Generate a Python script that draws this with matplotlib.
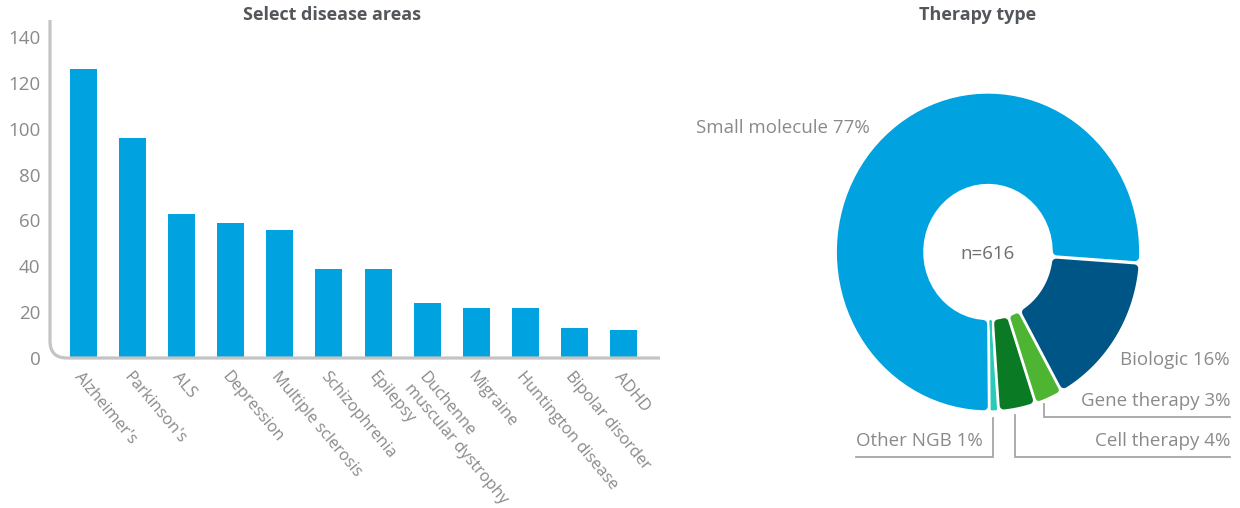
import numpy as np
import matplotlib
matplotlib.use('Agg')
import matplotlib.pyplot as plt
from matplotlib.path import Path
from matplotlib.patches import PathPatch, Polygon

plt.rcParams['font.family'] = ['Open Sans', 'DejaVu Sans']

# left panel data
diseases = ["Alzheimer's", "Parkinson's", 'ALS', 'Depression', 'Multiple sclerosis',
            'Schizophrenia', 'Epilepsy', 'Duchenne\nmuscular dystrophy', 'Migraine',
            'Huntington disease', 'Bipolar disorder', 'ADHD']
counts = [126, 96, 63, 59, 56, 39, 39, 24, 22, 22, 13, 12]
y_ticks = [0, 20, 40, 60, 80, 100, 120, 140]

# right panel data (counter-clockwise order)
therapies = ['Small molecule', 'Other NGB', 'Cell therapy', 'Gene therapy', 'Biologic']
shares = [77, 1, 4, 3, 16]
therapy_colors = ['#00A3E0', '#2BC9B8', '#0B7A25', '#4DB531', '#005587']
n_total = 616

BLUE = '#00A3E0'
GREY_TXT = '#8A8A8A'
TITLE = '#53565A'
AXIS = '#C4C4C4'
LEADER = '#A6A6A6'

fig = plt.figure(figsize=(12.4, 5.08), dpi=100)

# ---- bar chart ----
ax = fig.add_axes([50 / 1240, 150 / 508, 610 / 1240, 338 / 508])
x = np.arange(len(diseases))
ax.bar(x, counts, width=0.55, color=BLUE, zorder=2)
ax.set_xlim(-0.68, 11.74)
ax.set_ylim(0, 147.4)
for s in ax.spines.values():
    s.set_visible(False)
ax.set_yticks(y_ticks)
ax.tick_params(axis='y', length=0, pad=7, labelsize=13.5, labelcolor=GREY_TXT)
ax.set_xticks(x)
ax.set_xticklabels(diseases, rotation=-50, ha='left', va='top',
                   rotation_mode='anchor', fontsize=11.8, color=GREY_TXT)
ax.tick_params(axis='x', length=0, pad=8)

# axis line with a rounded corner
rx, ry = 17 / 610, 17 / 338
axis_path = Path([(0, 1), (0, ry), (0, 0), (rx, 0), (1, 0)],
                 [Path.MOVETO, Path.LINETO, Path.CURVE3, Path.CURVE3, Path.LINETO])
ax.add_patch(PathPatch(axis_path, transform=ax.transAxes, fill=False,
                       edgecolor=AXIS, lw=2.3, clip_on=False, zorder=3))

fig.text(332 / 1240, 1 - 15 / 508, 'Select disease areas', ha='center', va='center',
         fontsize=13, fontweight='bold', color=TITLE)

# ---- donut ----
pax = fig.add_axes([680 / 1240, 0, 560 / 1240, 1])
wedges, _ = pax.pie(shares, startangle=-4, counterclock=True, radius=1,
                    colors=therapy_colors, wedgeprops=dict(width=0.584))
pax.set_aspect('auto')
pax.set_xlim(-308 / 152.5, 252 / 152.5)
pax.set_ylim(-256 / 160, 252 / 160)
pax.axis('off')

px_unit = 156.0
gap_px = 3.0


def rounded_sector(t1, t2, r_out, r_in, d):
    mid = np.radians((t1 + t2) / 2)
    half = np.radians((t2 - t1) / 2)
    ro, ri = r_out - d, r_in + d
    rho = np.linspace(ri, ro, 40)
    h = np.clip(half - np.arcsin(np.clip(d / rho, 0, 1)), 0, None)
    pts = []
    for a in np.linspace(mid - h[-1], mid + h[-1], 80):
        pts.append((ro * np.cos(a), ro * np.sin(a)))
    for r, hh in zip(rho[::-1], h[::-1]):
        pts.append((r * np.cos(mid + hh), r * np.sin(mid + hh)))
    for a in np.linspace(mid + h[0], mid - h[0], 40):
        pts.append((ri * np.cos(a), ri * np.sin(a)))
    for r, hh in zip(rho, h):
        pts.append((r * np.cos(mid - hh), r * np.sin(mid - hh)))
    return np.array(pts)


for w, col in zip(wedges, therapy_colors):
    w.set_visible(False)
    r_in = w.r - w.width
    half = np.radians((w.theta2 - w.theta1) / 2)
    corner = min(4.0, 0.5 * half * r_in * px_unit)
    d = (corner + gap_px / 2) / px_unit
    poly = Polygon(rounded_sector(w.theta1, w.theta2, w.r, r_in, d), closed=True,
                   facecolor=col, edgecolor=col, lw=corner * 2 * 0.72,
                   joinstyle='round')
    pax.add_patch(poly)

mids = {t: np.radians((w.theta1 + w.theta2) / 2) for t, w in zip(therapies, wedges)}
pct = dict(zip(therapies, shares))

pax.text(0, -0.01, f'n={n_total}', ha='center', va='center', fontsize=13.5, color='#6E6E6E')
pax.text(-0.066, 1.48, 'Therapy type', ha='center', va='center',
         fontsize=13, fontweight='bold', color=TITLE)

pax.text(-0.774, 0.775, f'Small molecule {pct["Small molecule"]}%', ha='right', va='center',
         fontsize=13.5, color=GREY_TXT)
pax.text(1.587, -0.675, f'Biologic {pct["Biologic"]}%', ha='right', va='center',
         fontsize=13.5, color=GREY_TXT)

right_x = 1.587
for name, y_line, x_end in [('Gene therapy', -1.031, right_x),
                            ('Cell therapy', -1.281, right_x),
                            ('Other NGB', -1.281, -0.866)]:
    m = mids[name]
    xv = 0.92 * np.cos(m)
    y0 = 1.04 * np.sin(m)
    pax.plot([xv, xv, x_end], [y0, y_line, y_line], color=LEADER, lw=1.3,
             solid_joinstyle='miter', clip_on=False)
    if x_end > xv:
        pax.text(x_end, y_line + 0.1, f'{name} {pct[name]}%', ha='right', va='center',
                 fontsize=13.5, color=GREY_TXT)
    else:
        pax.text(x_end, y_line + 0.1, f'{name} {pct[name]}%', ha='left', va='center',
                 fontsize=13.5, color=GREY_TXT)

fig.savefig('out.png', dpi=100, facecolor='white')
